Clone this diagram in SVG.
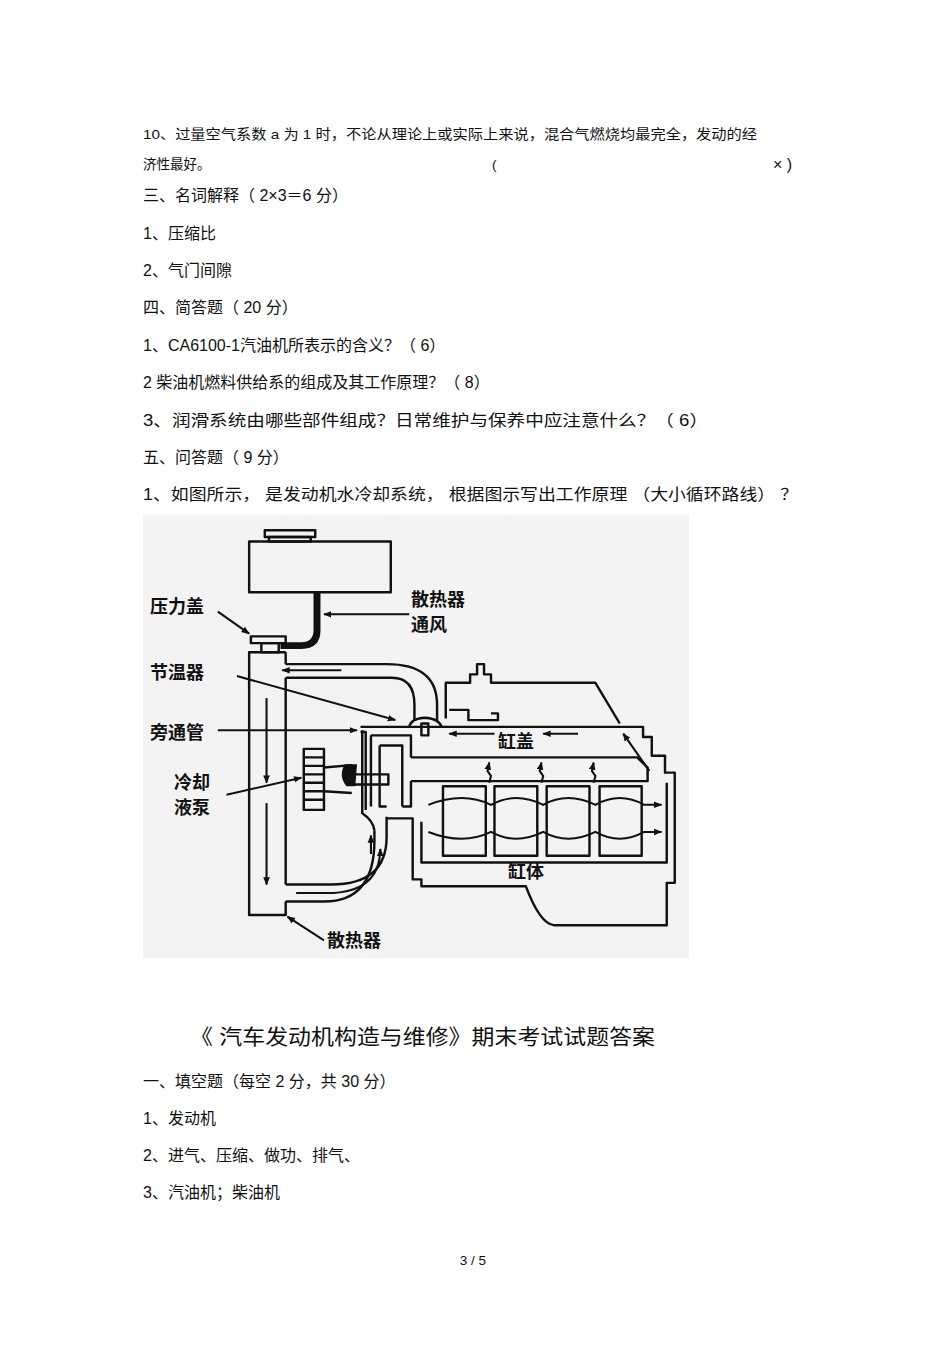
<svg xmlns="http://www.w3.org/2000/svg" width="950" height="1345" viewBox="0 0 950 1345">
<style>
.t{font-family:"Liberation Sans","Noto Sans CJK SC",sans-serif;font-size:16px;fill:#111}
.s{font-size:13.5px}
.lb{font-family:"Noto Sans CJK SC",sans-serif;font-size:18px;font-weight:bold;fill:#111}
.d{fill:none;stroke:#111;stroke-width:7;stroke-linejoin:round}
.a{fill:none;stroke:#111;stroke-width:6;marker-end:url(#ah)}
</style>
<defs><marker id="ah" viewBox="0 0 10 10" refX="9" refY="5" markerWidth="4" markerHeight="4" orient="auto"><path d="M0,1 L10,5 L0,9 z" fill="#111"/></marker></defs>
<rect width="950" height="1345" fill="#fff"/>
<g id="text">
<text class="t s" x="143" y="139" textLength="614" lengthAdjust="spacingAndGlyphs">10、过量空气系数    a 为  1 时，不论从理论上或实际上来说，混合气燃烧均最完全，发动的经</text>
<text class="t s" x="143" y="169">济性最好。</text>
<text class="t s" x="492" y="169">(</text>
<text class="t" x="773" y="170">× )</text>
<text class="t" x="143" y="201">三、名词解释（  2×3＝6 分）</text>
<text class="t" x="143" y="239">1、压缩比</text>
<text class="t" x="143" y="276">2、气门间隙</text>
<text class="t" x="143" y="313">四、简答题（ 20 分）</text>
<text class="t" x="143" y="351">1、CA6100-1汽油机所表示的含义？（   6）</text>
<text class="t" x="143" y="388">2 柴油机燃料供给系的组成及其工作原理？（    8）</text>
<text class="t" x="143" y="426" textLength="565" lengthAdjust="spacingAndGlyphs">3、润滑系统由哪些部件组成？日常维护与保养中应注意什么？（      6）</text>
<text class="t" x="143" y="463">五、问答题（ 9 分）</text>
<text class="t" x="143" y="500" textLength="655" lengthAdjust="spacingAndGlyphs">1、如图所示，  是发动机水冷却系统，   根据图示写出工作原理  （大小循环路线）  ？</text>
<text class="t" x="190" y="1044" style="font-size:21px" textLength="465" lengthAdjust="spacingAndGlyphs">《  汽车发动机构造与维修》期末考试试题答案</text>
<text class="t" x="143" y="1087">一、填空题（每空   2 分，共 30 分）</text>
<text class="t" x="143" y="1124">1、发动机</text>
<text class="t" x="143" y="1161">2、进气、压缩、做功、排气、</text>
<text class="t" x="143" y="1198">3、汽油机；柴油机</text>
<text class="t s" x="473" y="1265" text-anchor="middle">3 / 5</text>
</g>
<rect x="143" y="515" width="546" height="443" fill="#f3f3f3"/>
<g id="diagram" transform="translate(143,515) scale(0.348,0.339)">
<g id="tank"><rect class="d" x="305" y="78" width="407" height="150"/><rect class="d" x="350" y="45" width="145" height="20"/><rect class="d" x="362" y="65" width="120" height="13"/>
<path d="M500,228 V340 Q500,385 455,385 H395" fill="none" stroke="#111" stroke-width="20"/></g>
<g id="cap"><rect class="d" x="310" y="358" width="100" height="20"/><rect class="d" x="340" y="378" width="50" height="27"/></g>
<g id="radiator"><path class="d" d="M410,405 H305 V1180 H410 V1140"/><path class="d" d="M410,405 V440 M410,480 V1090"/></g>
<g id="hoses">
<path class="d" d="M410,440 H700 Q845,440 845,560 V605"/>
<path class="d" d="M410,480 H715 Q780,480 780,560 V605"/>
<path class="d" d="M765,625 Q770,600 810,598 Q850,600 858,625"/>
<rect class="d" x="800" y="615" width="20" height="35"/>
<path class="d" d="M410,1140 H520 Q665,1140 665,960 V930" stroke-width="10"/>
<path class="d" d="M410,1090 H540 Q700,1090 700,950 V890"/>
</g>
<g id="engine">
<path class="d" d="M625,625 H1437 V655 H1462 V710 H1500 V760 H1528 V1085 H1505 V1210 H1180 Q1140,1205 1100,1095 H800 V1075 H775 V895 H700"/>
<path class="d" d="M770,715 H1420 L1450,745 V785 H770"/>
<path class="d" d="M800,905 V1025 H1505 V790"/>
<rect class="d" x="862" y="800" width="123" height="205"/><rect class="d" x="1010" y="800" width="123" height="205"/><rect class="d" x="1160" y="800" width="123" height="205"/><rect class="d" x="1312" y="800" width="121" height="205"/>
<path class="d" d="M870,600 V495 H940 V470 H960 V440 H980 V470 H1000 V495 H1300 L1370,615"/>
<path class="d" d="M880,575 H935 V605 H1020 V585 H1000"/>
<path class="d" d="M640,870 V640 H625 M655,650 H770 V715 M655,650 V860 M680,680 H745 V860 M680,680 V860 H700 M770,785 V860 H745"/>
<path class="d" d="M630,635 V880 Q660,900 665,930" stroke-width="14"/>
<rect class="d" x="590" y="765" width="115" height="30"/>
<rect class="d" x="462" y="690" width="58" height="180"/>
<path class="d" d="M462,715 H520 M462,740 H520 M462,765 H520 M462,790 H520 M462,815 H520 M462,840 H520 M520,745 L600,738 M520,815 L600,820"/>
<path d="M580,735 Q560,770 585,800 L610,800 L615,735 z" fill="#111"/>
<path d="M820,855 Q920,815 1000,855 Q1070,815 1150,855 Q1220,815 1300,855 Q1370,815 1440,855 L1490,855" class="a"/>
<path d="M820,935 Q920,975 1000,935 Q1070,975 1150,935 Q1220,975 1300,935 Q1370,975 1440,935 L1490,935" class="a"/>
</g>
<g id="connectors">
<path class="a" d="M570,458 H400"/>
<path class="a" d="M355,540 V790"/><path class="a" d="M355,850 V1090"/>
<path class="a" d="M1010,645 H880"/><path class="a" d="M1250,645 H1150"/>
<path class="a" d="M1455,755 L1380,645"/>
<path class="a" d="M995,790 L1000,770 L990,755 L995,730"/><path class="a" d="M1145,790 L1150,770 L1140,755 L1145,730"/><path class="a" d="M1295,790 L1300,770 L1290,755 L1295,730"/>
<path class="a" d="M440,1115 H530 Q680,1115 682,985"/><path class="a" d="M655,1000 V945"/>
<path class="a" d="M215,285 L305,350"/><path class="a" d="M765,293 H520"/><path class="a" d="M270,475 L725,605"/><path class="a" d="M215,635 H615"/><path class="a" d="M240,825 L455,775"/><path class="a" d="M520,1255 L415,1185"/>
</g>
</g>
<g id="labels">
<text class="lb" x="150" y="613">压力盖</text>
<text class="lb" x="411" y="606">散热器</text><text class="lb" x="411" y="631">通风</text>
<text class="lb" x="150" y="679">节温器</text>
<text class="lb" x="150" y="739">旁通管</text>
<text class="lb" x="174" y="789">冷却</text><text class="lb" x="174" y="814">液泵</text>
<text class="lb" x="498" y="748">缸盖</text>
<text class="lb" x="508" y="878">缸体</text>
<text class="lb" x="327" y="947">散热器</text>
</g>
</svg>
